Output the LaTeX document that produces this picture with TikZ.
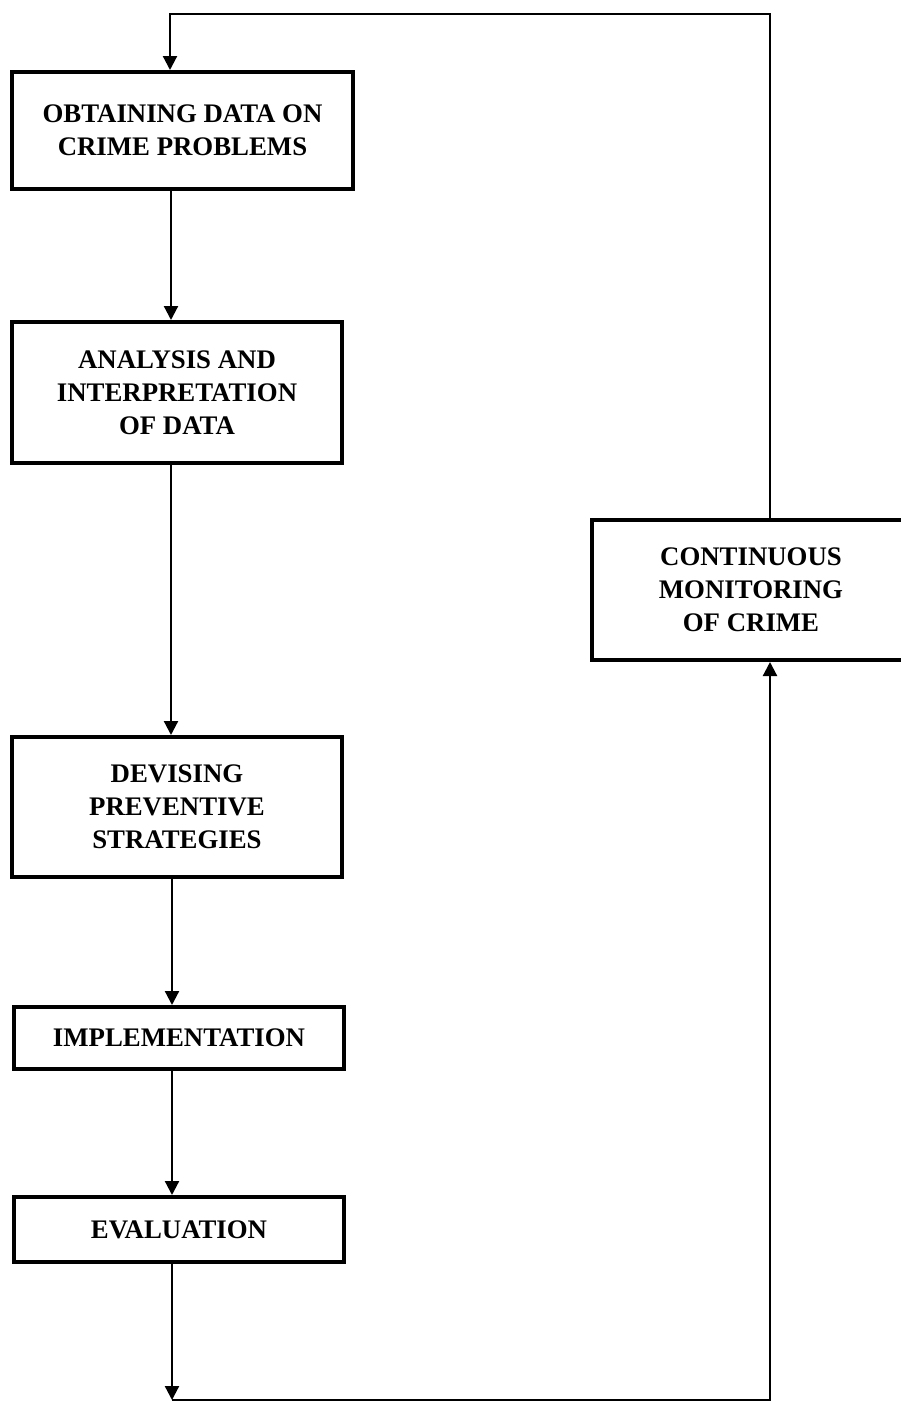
\documentclass[tikz,border=0pt]{standalone}
\usepackage{fontspec}
\setmainfont{Liberation Serif}
\usetikzlibrary{arrows.meta, positioning}

\tikzset{
	stage/.style = {draw, line width=2pt, rectangle, align=center,
		font=\fontsize{13.4}{16.5}\selectfont\bfseries, inner sep=0pt},
	flow/.style = {line width=1.1pt, -{Triangle[width=7pt,length=7pt]}}
}

\begin{document}
\begin{tikzpicture}[x=0.5pt, y=-0.5pt]
	\useasboundingbox (0,0) rectangle (900,1403);
	% boxes of the left column
	\node (obtain) [stage, minimum width=170.5pt, minimum height=58.5pt]
		at (182.5,130.5) {OBTAINING DATA ON\\CRIME PROBLEMS};
	\node (analysis) [stage, minimum width=165pt, minimum height=70.5pt]
		at (177,392.5) {ANALYSIS AND\\INTERPRETATION\\OF DATA};
	\node (devise) [stage, minimum width=165pt, minimum height=70pt]
		at (177,807) {DEVISING\\PREVENTIVE\\STRATEGIES};
	\node (implement) [stage, minimum width=165pt, minimum height=31pt]
		at (179,1038) {IMPLEMENTATION};
	\node (evaluate) [stage, minimum width=165pt, minimum height=32.5pt]
		at (179,1229.5) {EVALUATION};
	% box on the right
	\node (monitor) [stage, minimum width=159pt, minimum height=70pt]
		at (751,590) {CONTINUOUS\\MONITORING\\OF CRIME};
	% corners of the feedback loop
	\coordinate (spine) at (171,0);
	\coordinate (botleft) at (172,1400);
	\coordinate (botright) at (770,1400);
	\coordinate (topright) at (770,14);
	\coordinate (topleft) at (170,14);
	\draw [flow] (obtain.south -| spine) -- (analysis.north -| spine);
	\draw [flow] (analysis.south -| spine) -- (devise.north -| spine);
	\draw [flow] (devise.south -| botleft) -- (implement.north -| botleft);
	\draw [flow] (implement.south -| botleft) -- (evaluate.north -| botleft);
	\draw [flow] (evaluate.south -| botleft) -- (botleft);
	\draw [flow] (botleft) -- (botright) -- (monitor.south -| botright);
	\draw [flow] (monitor.north -| topright) -- (topright) -- (topleft)
		-- (obtain.north -| topleft);
\end{tikzpicture}
\end{document}
